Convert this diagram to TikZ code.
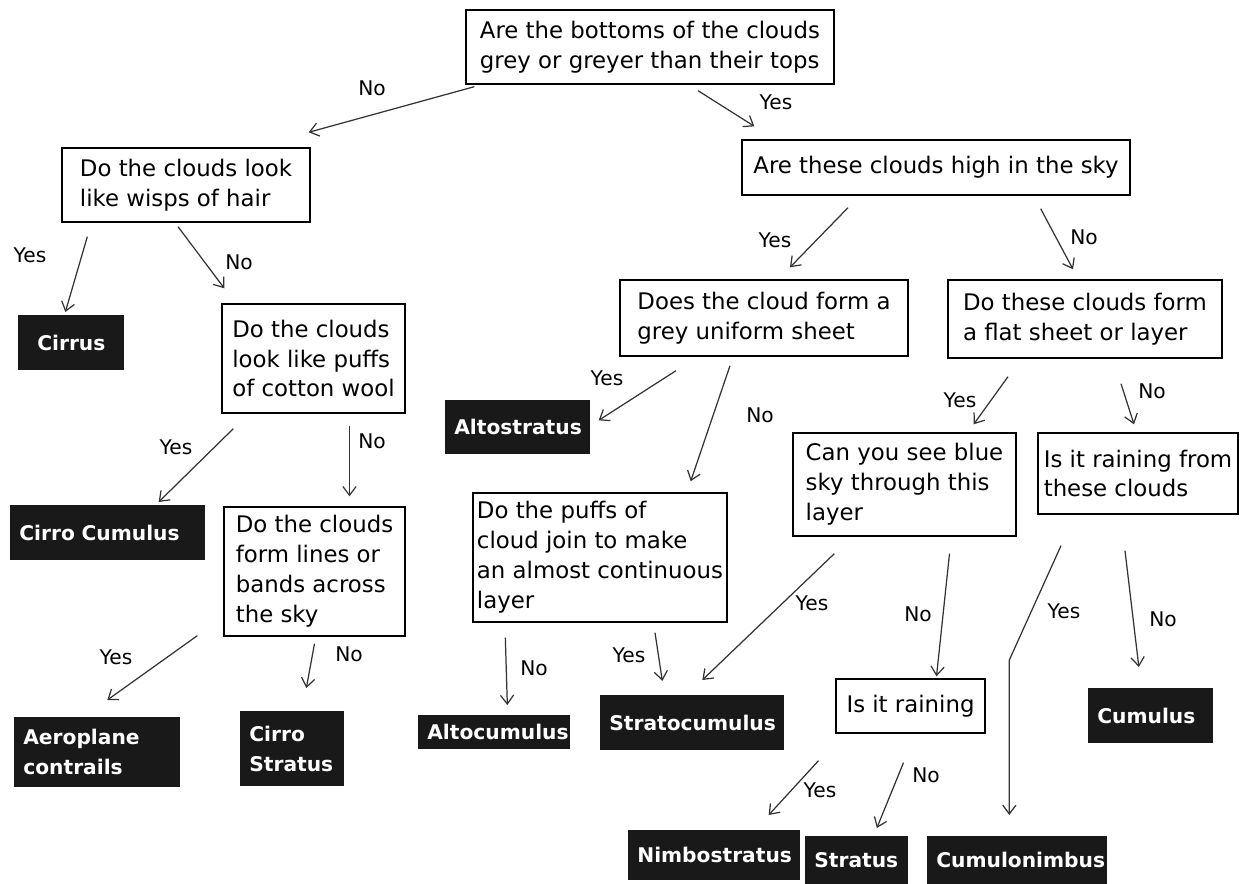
\documentclass[tikz,border=0pt]{standalone}
\usepackage{fontspec}
\setmainfont{DejaVu Sans}
\usetikzlibrary{arrows.meta,calc}

\begin{document}
\begin{tikzpicture}[x=0.02cm, y=-0.02cm,
    question/.style={draw, line width=0.8pt, align=left, inner sep=0pt, font=\fontsize{13}{17}\selectfont},
    answer/.style={fill=black!90, text=white, anchor=north west, align=left, inner xsep=0.18cm, inner ysep=0pt,
        font=\fontsize{11.5}{17}\selectfont\bfseries, execute at begin node={\hyphenpenalty=10000}},
    choice/.style={font=\fontsize{11.5}{14}\selectfont},
    arr/.style={-{Straight Barb[length=5pt,width=7.5pt]}, line width=0.7pt, black!80}]
    \useasboundingbox (0,0) rectangle (1245,884);

    % Questions
    \node[question, minimum width=7.36cm, minimum height=1.48cm] (bottoms) at (650,47) {Are the bottoms of the clouds\\grey or greyer than their tops};
    \node[question, minimum width=4.96cm, minimum height=1.48cm] (wisps) at (186,185) {Do the clouds look\\like wisps of hair};
    \node[question, minimum width=7.76cm, minimum height=1.10cm] (high) at (936,167.5) {Are these clouds high in the sky};
    \node[question, minimum width=3.66cm, minimum height=2.18cm] (puffs) at (313.5,358.5) {Do the clouds\\look like puffs\\of cotton wool};
    \node[question, minimum width=5.76cm, minimum height=1.52cm] (sheet) at (764,318) {Does the cloud form a\\grey uniform sheet};
    \node[question, minimum width=5.48cm, minimum height=1.56cm] (flat) at (1085,319) {Do these clouds form\\a flat sheet or layer};
    \node[question, minimum width=3.62cm, minimum height=2.58cm] (lines) at (314.5,571.5) {Do the clouds\\form lines or\\bands across\\the sky};
    \node[question, minimum width=5.08cm, minimum height=2.58cm] (join) at (600,557.5) {Do the puffs of\\cloud join to make\\an almost continuous\\layer};
    \node[question, minimum width=4.46cm, minimum height=2.06cm] (bluesky) at (904.5,484.5) {Can you see blue\\sky through this\\layer};
    \node[question, minimum width=4.00cm, minimum height=1.62cm] (rainfrom) at (1138,473.5) {Is it raining from\\these clouds};
    \node[question, minimum width=2.98cm, minimum height=1.08cm] (raining) at (910.5,706) {Is it raining};

    % Cloud types
    \node[answer, align=center, text width=1.76cm, minimum height=1.10cm] (cirrus) at (18,315) {Cirrus};
    \node[answer, text width=3.54cm, minimum height=1.10cm] (cirrocum) at (10,505) {Cirro Cumulus};
    \node[answer, text width=2.96cm, minimum height=1.40cm] (contrails) at (14,717) {Aeroplane\\contrails};
    \node[answer, text width=1.72cm, minimum height=1.50cm] (cirrostrat) at (240,711) {Cirro\\Stratus};
    \node[answer, text width=2.54cm, minimum height=1.08cm] (altostrat) at (445,400) {Altostratus};
    \node[answer, text width=2.68cm, minimum height=0.68cm] (altocum) at (418,715) {Altocumulus};
    \node[answer, text width=3.32cm, minimum height=1.10cm] (stratocum) at (600,695) {Stratocumulus};
    \node[answer, text width=2.14cm, minimum height=1.10cm] (cumulus) at (1088,688) {Cumulus};
    \node[answer, text width=3.08cm, minimum height=1.00cm] (nimbo) at (628,830) {Nimbostratus};
    \node[answer, text width=1.70cm, minimum height=0.96cm] (stratus) at (805,836) {Stratus};
    \node[answer, text width=3.24cm, minimum height=0.96cm] (cumulonimb) at (927,836) {Cumulonimbus};

    % Connectors
    \draw[arr] ($(bottoms.south west)+(9,2)$) -- ($(wisps.north east)+(-2,-15)$);
    \draw[arr] ($(bottoms.south)+(48,6)$) -- ($(high.north west)+(13,-13)$);
    \draw[arr] ($(wisps.south west)+(26,14)$) -- ($(cirrus.north)+(-6,-3)$);
    \draw[arr] ($(wisps.south)+(-8,4)$) -- ($(puffs.north west)+(3,-15)$);
    \draw[arr] ($(high.south)+(-88,12)$) -- ($(sheet.north)+(26,-12)$);
    \draw[arr] ($(high.south east)+(-90,13)$) -- ($(flat.north)+(-12,-10)$);
    \draw[arr] ($(puffs.south west)+(12,15)$) -- ($(cirrocum.north east)+(-47,-3)$);
    \draw[arr] ($(puffs.south)+(36,12)$) -- ($(lines.north)+(35,-10)$);
    \draw[arr] ($(sheet.south)+(-88,14)$) -- ($(altostrat.east)+(8,-7)$);
    \draw[arr] ($(sheet.south)+(-34,9)$) -- ($(join.north east)+(-37,-11)$);
    \draw[arr] ($(flat.south)+(-77,18)$) -- ($(bluesky.north east)+(-43,-8)$);
    \draw[arr] ($(flat.south)+(36,25)$) -- ($(rainfrom.north)+(-4,-8)$);
    \draw[arr] ($(lines.south west)+(-26,-1)$) -- ($(contrails.north)+(10,-17)$);
    \draw[arr] ($(lines.south)+(0,7)$) -- ($(cirrostrat.north)+(14,-23)$);
    \draw[arr] ($(join.south west)+(33,15)$) -- ($(altocum.north)+(13,-10)$);
    \draw[arr] ($(join.south)+(55,10)$) -- ($(stratocum.north)+(-30,-14)$);
    \draw[arr] ($(bluesky.south west)+(42,17)$) -- ($(stratocum.north)+(10,-15)$);
    \draw[arr] ($(bluesky.south)+(45,17)$) -- ($(raining.north)+(26,-2)$);
    \draw[arr] ($(rainfrom.south)+(-77,31)$) -- ($(cumulonimb.north)+(-8,-176)$) -- ($(cumulonimb.north)+(-8,-21)$);
    \draw[arr] ($(rainfrom.south)+(-13,36)$) -- ($(cumulus.north)+(-12,-21)$);
    \draw[arr] ($(raining.south)+(-92,27)$) -- ($(nimbo.north east)+(-32,-15)$);
    \draw[arr] ($(raining.south)+(-7,29)$) -- ($(stratus.north)+(20,-8)$);

    % Yes / No labels
    \node[choice] (no1) at (372,88) {No};
    \node[choice] (yes1) at (776,102) {Yes};
    \node[choice] (yes2) at (30,255) {Yes};
    \node[choice] (no2) at (239,262) {No};
    \node[choice] (yes3) at (775,240) {Yes};
    \node[choice] (no3) at (1084,237) {No};
    \node[choice] (yes4) at (176,447) {Yes};
    \node[choice] (no4) at (372,441) {No};
    \node[choice] (yes5) at (607,378) {Yes};
    \node[choice] (no5) at (760,415) {No};
    \node[choice] (yes6) at (960,400) {Yes};
    \node[choice] (no6) at (1152,391) {No};
    \node[choice] (yes7) at (116,657) {Yes};
    \node[choice] (no7) at (349,654) {No};
    \node[choice] (no8) at (534,668) {No};
    \node[choice] (yes8) at (629,655) {Yes};
    \node[choice] (yes9) at (812,603) {Yes};
    \node[choice] (no9) at (918,614) {No};
    \node[choice] (yes10) at (1064,611) {Yes};
    \node[choice] (no10) at (1163,619) {No};
    \node[choice] (yes11) at (820,790) {Yes};
    \node[choice] (no11) at (926,775) {No};
\end{tikzpicture}
\end{document}
